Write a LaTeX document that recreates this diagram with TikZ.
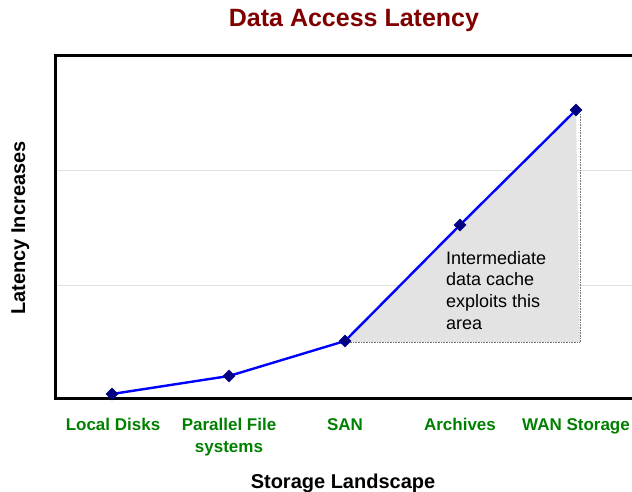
\documentclass[tikz,border=0pt]{standalone}
\usepackage{fontspec}
\setmainfont{Liberation Sans}
\usetikzlibrary{calc,shapes.geometric}
\definecolor{titlered}{RGB}{128,0,0}
\definecolor{catgreen}{RGB}{0,128,0}
\definecolor{dotnavy}{RGB}{0,0,128}

\begin{document}
\begin{tikzpicture}[x=1pt,y=-1pt,
    catlabel/.style={text=catgreen,font=\fontsize{17}{22}\selectfont\bfseries,
      align=center,anchor=north,inner sep=0pt},
    datapt/.style={diamond,fill=dotnavy,inner sep=0pt,minimum size=13pt},
    axistitle/.style={font=\fontsize{20}{24}\selectfont\bfseries,inner sep=0pt}]
  \useasboundingbox (0,0) rectangle (632,492);

  %% Grid lines and frame
  \foreach \y in {170,285}
  {
    \draw[black!12,line width=0.8pt] (55,\y) -- (640,\y);
  }
  \draw[line width=3pt] (640,56) -- (55,56) -- (55,398) -- (640,398);

  %% Data points
  \foreach \n/\x/\y in {1/112/394, 2/229/376, 3/345/341, 4/460/225, 5/576/110}
  {
    \coordinate (P\n) at (\x,\y);
  }
  \coordinate (AC) at (P5|-P3);

  %% Shaded area under the steep part
  \fill[black!11] (P3) -- (P5) -- ($(AC)+(4,1)$) -- ($(P3)+(0,1)$) -- cycle;
  \draw[black!55,densely dotted,line width=0.6pt]
    ($(P5)+(4,4)$) -- ($(AC)+(4,1)$) -- ($(P3)+(0,1)$);
  \node[anchor=north west,align=left,inner sep=0pt,
    font=\fontsize{18}{21.7}\selectfont] (NOTE) at (446,251)
    {Intermediate\\data cache\\exploits this\\area};

  %% Latency curve
  \draw[blue,line width=2.4pt] (P1) -- (P2) -- (P3) -- (P4) -- (P5);
  \foreach \n in {1,...,5}
  {
    \node[datapt] (D\n) at (P\n) {};
  }

  %% Category labels
  \node[catlabel] (LD)  at (113,418) {Local Disks};
  \node[catlabel] (PFS) at (229,418) {Parallel File\\systems};
  \node[catlabel] (SAN) at (345,418) {SAN};
  \node[catlabel] (ARC) at (460,418) {Archives};
  \node[catlabel] (WAN) at (576,418) {WAN Storage};

  %% Titles
  \node[font=\fontsize{25}{28}\selectfont\bfseries,text=titlered,inner sep=0pt,
    anchor=base] (TITLE) at (354,27) {Data Access Latency};
  \node[axistitle,anchor=base] (XT) at (343,488) {Storage Landscape};
  \node[axistitle,rotate=90,anchor=base] (YT) at (25,228) {Latency Increases};
\end{tikzpicture}
\end{document}
